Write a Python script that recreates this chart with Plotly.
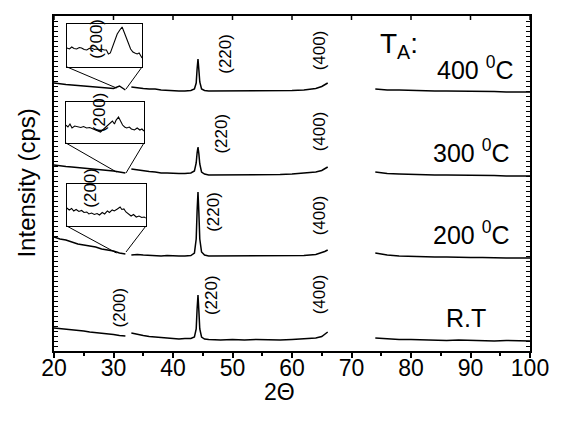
import plotly.graph_objects as go

# ---------------- data ----------------
X_A = [20, 21, 22, 23, 24, 25, 26, 27, 28, 29, 30, 31, 32]
X_B = [33, 34, 35, 36, 37, 38, 39, 40, 41, 42, 43,
       43.6, 43.9, 44.05, 44.2, 44.35, 44.5, 44.8, 45.3,
       46, 48, 50, 52, 54, 56, 58, 60, 62, 64, 65, 65.5, 66]
X_C = [74, 76, 78, 80, 82, 84, 86, 88, 90, 92, 94, 96, 98, 100]

rt_A = [23, 22.5, 22, 21, 20.5, 20, 19, 18.5, 18, 17, 16.5, 15.5, 15]
rt_B = [18, 16.5, 15.5, 14.5, 14, 13, 12.5, 12.5, 12, 12.5, 12.5,
        14, 22, 42, 56, 40, 22, 14, 12,
        11.5, 11, 11.5, 11, 11.5, 11, 11, 11.5, 12, 13, 14.5, 16.5, 19]
rt_C = [13, 12, 11.5, 11.5, 11, 11, 10.5, 11, 10.5, 10.5, 10, 10.5, 10, 10]

t200_A = [114, 112, 111, 109, 107, 106, 105, 104, 102, 101, 100, 98, 97]
t200_B = [96, 96.5, 96, 95.5, 95.5, 95, 95.5, 95, 95, 95, 95.5,
          98, 112, 140, 159, 138, 112, 99, 96,
          95, 95, 95.5, 95, 95, 95.5, 95, 95, 95.5, 96.5, 98, 99.5, 101]
t200_C = [98, 96, 95, 94.5, 94.5, 94, 94, 93.5, 93.5, 93.5, 93, 93, 93, 93]

t300_A = [186, 185, 184.5, 184, 183.5, 183, 182.5, 182, 181, 180.5, 180, 179, 178]
t300_B = [182, 181, 180, 179.5, 179, 178, 178, 177.5, 177.5, 177.5, 178,
          180, 188, 198, 204, 197, 187, 179, 177,
          176, 176, 176, 176.5, 176, 176, 176.5, 177, 178, 179, 180.5, 182, 184]
t300_C = [179, 177.5, 177, 176.5, 176.5, 176, 176, 176, 175.5, 175.5, 175.5, 175, 175, 175]

t400_A = [268, 267, 266.5, 266, 265.5, 265, 264.5, 264, 263.5, 263, 262.5, 265, 261]
t400_B = [264, 263, 262.5, 262, 262, 261, 260.5, 260.5, 260, 260, 260.5,
          262, 268, 282, 292, 281, 269, 262, 260.5,
          260, 260, 260, 260, 260, 260.5, 260, 260.5, 261, 262.5, 264.5, 266.5, 268]
t400_C = [262, 261, 261, 260.5, 260.5, 260, 260, 260, 260, 259.5, 259.5, 259, 259, 259]

# insets: zoom on the (200) reflection
ins400_x = [30.00, 30.08, 30.15, 30.22, 30.30, 30.38, 30.45, 30.53, 30.61, 30.68, 30.76,
            30.84, 30.91, 30.99, 31.06, 31.14, 31.21, 31.27, 31.33, 31.40, 31.47, 31.54,
            31.62, 31.69, 31.75, 31.82, 31.88, 31.95, 32.02, 32.08, 32.15, 32.21, 32.27, 32.30]
ins400_y = [19, 18, 20, 18.5, 18, 19.5, 19, 17.5, 17, 18.5, 19,
            17.5, 18, 17, 18, 17, 17, 13, 14, 20, 27, 33,
            37, 40, 35, 30, 24, 18, 15, 14, 13, 14, 11, 9]

ins300_x = [30.00, 30.06, 30.12, 30.18, 30.26, 30.35, 30.44, 30.52, 30.61, 30.70, 30.79,
            30.87, 30.96, 31.02, 31.08, 31.17, 31.23, 31.29, 31.37, 31.43, 31.48, 31.55,
            31.61, 31.67, 31.73, 31.79, 31.87, 31.93, 32.02, 32.10, 32.18, 32.24, 32.30]
ins300_y = [18, 16, 19, 15, 17, 16, 15.5, 16.5, 15, 15.5, 14,
            13, 12, 11, 13, 16, 18, 20, 22, 19, 23, 26,
            22, 18, 16, 15, 16, 14, 13, 15, 13, 14, 12]

ins200_x = [30.00, 30.07, 30.14, 30.20, 30.27, 30.35, 30.43, 30.50, 30.58, 30.64, 30.72,
            30.80, 30.88, 30.95, 31.03, 31.10, 31.18, 31.24, 31.32, 31.38, 31.47, 31.55,
            31.60, 31.66, 31.72, 31.80, 31.87, 31.94, 32.02, 32.10, 32.18, 32.25, 32.30]
ins200_y = [18, 16, 17.5, 15, 16.5, 14.5, 15.5, 13.5, 14, 12, 13,
            11.5, 12.5, 11, 13.5, 12, 15, 13.5, 16, 15, 17, 19,
            16.5, 17, 14, 12, 10, 11.5, 9, 10, 8.5, 9, 8]

x_ticks = [20, 30, 40, 50, 60, 70, 80, 90, 100]
peak_labels = ["(200)", "(220)", "(400)"]
temp_labels = ["R.T", "200 <sup>0</sup>C", "300 <sup>0</sup>C", "400 <sup>0</sup>C"]

# ---------------- figure ----------------
FONT = "Arial, Liberation Sans, sans-serif"
X_MIN, X_MAX = 20, 100
Y_MIN, Y_MAX = 0, 335


def join(a, b, c):
    return a + [None] + b + [None] + c


x_all = join(X_A, X_B, X_C)
fig = go.Figure()
for ys in [(rt_A, rt_B, rt_C), (t200_A, t200_B, t200_C),
           (t300_A, t300_B, t300_C), (t400_A, t400_B, t400_C)]:
    fig.add_trace(go.Scatter(x=x_all, y=join(*ys), mode="lines",
                             line=dict(color="black", width=1.5),
                             connectgaps=False, showlegend=False,
                             hoverinfo="skip"))

# inset axes
insets = [
    ([0.027, 0.185], [0.848, 0.976], ins400_x, ins400_y, 43),
    ([0.025, 0.189], [0.621, 0.743], ins300_x, ins300_y, 41),
    ([0.027, 0.193], [0.373, 0.499], ins200_x, ins200_y, 42),
]
link_pts = [((30.5, 263), (32.1, 262)),
            ((30.5, 179), (32.1, 178)),
            ((30.5, 98), (32.1, 99))]

layout_extra = {}
shapes = []
for i, (xd, yd, xs, ys, ymax) in enumerate(insets):
    n = i + 3
    fig.add_trace(go.Scatter(x=xs, y=ys, mode="lines",
                             line=dict(color="black", width=1.1),
                             xaxis=f"x{n}", yaxis=f"y{n}",
                             showlegend=False, hoverinfo="skip"))
    layout_extra[f"xaxis{n}"] = dict(domain=xd, anchor=f"y{n}", range=[30.0, 32.3],
                                     showline=True, mirror=True, linecolor="black",
                                     linewidth=1.2, showticklabels=False, ticks="",
                                     showgrid=False, zeroline=False, fixedrange=True)
    layout_extra[f"yaxis{n}"] = dict(domain=yd, anchor=f"x{n}", range=[0, ymax],
                                     showline=True, mirror=True, linecolor="black",
                                     linewidth=1.2, showticklabels=False, ticks="",
                                     showgrid=False, zeroline=False, fixedrange=True)
    bx0 = X_MIN + xd[0] * (X_MAX - X_MIN)
    bx1 = X_MIN + xd[1] * (X_MAX - X_MIN)
    by = Y_MIN + yd[0] * (Y_MAX - Y_MIN)
    (lx0, ly0), (lx1, ly1) = link_pts[i]
    shapes.append(dict(type="line", xref="x", yref="y", x0=bx0, y0=by, x1=lx0, y1=ly0,
                       line=dict(color="black", width=1)))
    shapes.append(dict(type="line", xref="x", yref="y", x0=bx1, y0=by, x1=lx1, y1=ly1,
                       line=dict(color="black", width=1)))

# inward ticks along the top edge at the major positions
for xv in x_ticks:
    shapes.append(dict(type="line", xref="x", yref="paper", x0=xv, x1=xv,
                       y0=1, y1=0.988, line=dict(color="black", width=1.5)))

annotations = []


def add_text(text, x, y, size, angle=0, ref="x"):
    annotations.append(dict(text=text, x=x, y=y,
                            xref=ref if ref == "paper" else "x",
                            yref=ref if ref == "paper" else "y",
                            showarrow=False, textangle=angle,
                            xanchor="center", yanchor="middle",
                            font=dict(family=FONT, size=size, color="black")))


# vertical peak labels
add_text(peak_labels[1], 48.7, 297, 17, -90)
add_text(peak_labels[2], 64.6, 301, 17, -90)
add_text(peak_labels[1], 48.0, 217, 17, -90)
add_text(peak_labels[2], 64.6, 220, 17, -90)
add_text(peak_labels[1], 46.7, 139, 17, -90)
add_text(peak_labels[2], 64.6, 136, 17, -90)
add_text(peak_labels[1], 46.4, 56, 17, -90)
add_text(peak_labels[2], 64.6, 57, 17, -90)
add_text(peak_labels[0], 31.0, 44, 17, -90)
# (200) labels inside the insets
add_text(peak_labels[0], 27.0, 312, 17, -90)
add_text(peak_labels[0], 27.6, 239, 17, -90)
add_text(peak_labels[0], 26.0, 163, 17, -90)

# temperature labels
add_text(temp_labels[3], 90.7, 283, 25)
add_text(temp_labels[2], 90.0, 200, 25)
add_text(temp_labels[1], 90.0, 118, 25)
add_text(temp_labels[0], 89.2, 33, 25)
add_text("T<sub>A</sub>:", 78.0, 306, 28)

# axis titles
add_text("2Θ", 0.473, -0.122, 23, 0, "paper")
add_text("Intensity (cps)", -0.058, 0.501, 24, -90, "paper")

fig.update_layout(
    width=561, height=423,
    margin=dict(l=54, r=25, t=16, b=72),
    paper_bgcolor="white", plot_bgcolor="white",
    xaxis=dict(range=[X_MIN, X_MAX], tickvals=x_ticks, ticks="outside", ticklen=5,
               tickwidth=1.5, tickcolor="black", showline=True, linewidth=2,
               linecolor="black", mirror=True, showgrid=False, zeroline=False,
               ticklabelstandoff=-10,
               tickfont=dict(family=FONT, size=23, color="black"),
               minor=dict(tickvals=[25, 35, 45, 55, 65, 75, 85, 95], ticks="outside",
                          ticklen=3, tickcolor="black", tickwidth=1.5)),
    yaxis=dict(range=[Y_MIN, Y_MAX], showticklabels=False, ticks="inside",
               ticklen=4, tickwidth=1.2, tickcolor="black", dtick=5, tick0=0,
               showline=True, linewidth=2, linecolor="black", mirror="ticks",
               showgrid=False, zeroline=False),
    shapes=shapes,
    annotations=annotations,
    **layout_extra,
)

fig.write_html("out.html", config={"displayModeBar": False},
               post_script="document.body.style.margin='0';document.body.style.padding='0';")
